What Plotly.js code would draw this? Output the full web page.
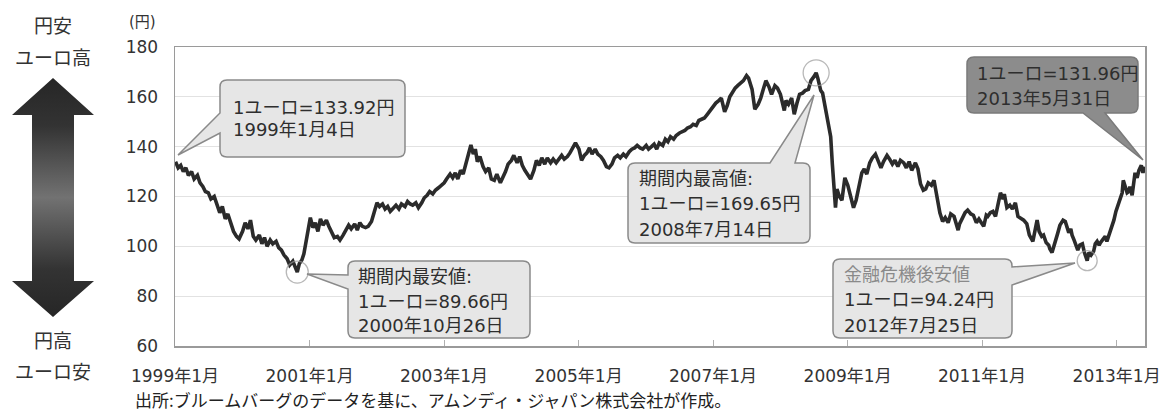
<!DOCTYPE html>
<html>
<head>
<meta charset="utf-8">
<script src="https://cdn.plot.ly/plotly-3.0.1.min.js"></script>
<style>html,body{margin:0;padding:0;background:#fff;}#chart{width:1168px;height:415px;}</style>
</head>
<body>
<div id="chart"></div>
<script>
// ---- data ----
const dates = [
'1999-01-04','1999-01-18','1999-02-01','1999-02-15','1999-03-01','1999-03-15','1999-04-01','1999-04-15','1999-05-03','1999-05-17','1999-06-01','1999-06-15','1999-07-01','1999-07-15','1999-08-02','1999-08-16','1999-09-01','1999-09-15','1999-10-01','1999-10-15','1999-11-01','1999-11-15','1999-12-01','1999-12-15',
'2000-01-03','2000-01-17','2000-02-01','2000-02-15','2000-03-01','2000-03-15','2000-04-03','2000-04-17','2000-05-01','2000-05-15','2000-06-01','2000-06-15','2000-07-03','2000-07-17','2000-08-01','2000-08-15','2000-09-01','2000-09-15','2000-10-02','2000-10-16','2000-10-26','2000-11-06','2000-11-20','2000-12-01','2000-12-15',
'2001-01-05','2001-01-19','2001-02-01','2001-02-15','2001-03-01','2001-03-15','2001-04-02','2001-04-16','2001-05-01','2001-05-15','2001-06-01','2001-06-15','2001-07-02','2001-07-16','2001-08-01','2001-08-15','2001-09-03','2001-09-17','2001-10-01','2001-10-15','2001-11-01','2001-11-15','2001-12-03','2001-12-17',
'2002-01-02','2002-01-16','2002-02-01','2002-02-15','2002-03-01','2002-03-15','2002-04-01','2002-04-15','2002-05-01','2002-05-15','2002-06-03','2002-06-17','2002-07-01','2002-07-15','2002-08-01','2002-08-15','2002-09-02','2002-09-16','2002-10-01','2002-10-15','2002-11-01','2002-11-15','2002-12-02','2002-12-16',
'2003-01-02','2003-01-15','2003-02-03','2003-02-17','2003-03-03','2003-03-17','2003-04-01','2003-04-15','2003-05-01','2003-05-15','2003-05-27','2003-06-09','2003-06-20','2003-07-01','2003-07-15','2003-08-01','2003-08-15','2003-09-01','2003-09-15','2003-10-01','2003-10-15','2003-11-03','2003-11-17','2003-12-01','2003-12-15',
'2004-01-02','2004-01-15','2004-02-02','2004-02-16','2004-03-01','2004-03-15','2004-04-01','2004-04-15','2004-05-03','2004-05-17','2004-06-01','2004-06-15','2004-07-01','2004-07-15','2004-08-02','2004-08-16','2004-09-01','2004-09-15','2004-10-01','2004-10-15','2004-11-01','2004-11-15','2004-12-01','2004-12-15',
'2005-01-03','2005-01-17','2005-02-01','2005-02-15','2005-03-01','2005-03-15','2005-04-01','2005-04-15','2005-05-02','2005-05-16','2005-06-01','2005-06-15','2005-07-01','2005-07-15','2005-08-01','2005-08-15','2005-09-01','2005-09-15','2005-10-03','2005-10-17','2005-11-01','2005-11-15','2005-12-01','2005-12-15',
'2006-01-03','2006-01-16','2006-02-01','2006-02-15','2006-03-01','2006-03-15','2006-04-03','2006-04-17','2006-05-01','2006-05-15','2006-06-01','2006-06-15','2006-07-03','2006-07-17','2006-08-01','2006-08-15','2006-09-01','2006-09-15','2006-10-02','2006-10-16','2006-11-01','2006-11-15','2006-12-01','2006-12-15',
'2007-01-02','2007-01-16','2007-02-01','2007-02-15','2007-03-05','2007-03-19','2007-04-02','2007-04-16','2007-05-01','2007-05-15','2007-06-01','2007-06-15','2007-07-02','2007-07-13','2007-08-01','2007-08-16','2007-09-03','2007-09-17','2007-10-01','2007-10-15','2007-11-01','2007-11-15','2007-12-03','2007-12-17',
'2008-01-02','2008-01-15','2008-01-23','2008-02-01','2008-02-15','2008-03-03','2008-03-17','2008-04-01','2008-04-15','2008-05-01','2008-05-15','2008-06-02','2008-06-16','2008-07-01','2008-07-14','2008-07-23','2008-08-08','2008-08-18','2008-09-02','2008-09-16','2008-10-01','2008-10-10','2008-10-20','2008-10-27','2008-11-04','2008-11-17','2008-12-01','2008-12-17',
'2009-01-02','2009-01-15','2009-02-02','2009-02-16','2009-03-02','2009-03-19','2009-04-01','2009-04-15','2009-05-01','2009-05-15','2009-06-01','2009-06-15','2009-07-01','2009-07-15','2009-08-03','2009-08-17','2009-09-01','2009-09-15','2009-10-01','2009-10-15','2009-11-02','2009-11-16','2009-12-01','2009-12-15',
'2010-01-04','2010-01-18','2010-02-01','2010-02-16','2010-03-01','2010-03-15','2010-04-01','2010-04-15','2010-05-03','2010-05-17','2010-06-01','2010-06-15','2010-07-01','2010-07-15','2010-08-02','2010-08-16','2010-08-24','2010-09-01','2010-09-15','2010-10-01','2010-10-15','2010-11-01','2010-11-15','2010-12-01','2010-12-15',
'2011-01-03','2011-01-10','2011-01-24','2011-02-01','2011-02-15','2011-03-01','2011-03-15','2011-03-28','2011-04-04','2011-04-11','2011-04-25','2011-05-02','2011-05-16','2011-06-01','2011-06-15','2011-07-01','2011-07-15','2011-08-01','2011-08-15','2011-09-01','2011-09-15','2011-10-04','2011-10-14','2011-10-27','2011-11-07','2011-11-21','2011-12-01','2011-12-15','2011-12-29',
'2012-01-04','2012-01-16','2012-01-31','2012-02-06','2012-02-15','2012-02-28','2012-03-08','2012-03-16','2012-03-28','2012-04-05','2012-04-16','2012-04-27','2012-05-04','2012-05-15','2012-05-31','2012-06-04','2012-06-15','2012-06-29','2012-07-10','2012-07-17','2012-07-25','2012-08-03','2012-08-15','2012-08-29','2012-09-07','2012-09-17','2012-09-28','2012-10-05','2012-10-16','2012-10-31','2012-11-09','2012-11-20','2012-11-30','2012-12-05','2012-12-17','2012-12-28',
'2013-01-07','2013-01-16','2013-01-31','2013-02-06','2013-02-15','2013-02-27','2013-03-08','2013-03-14','2013-03-26','2013-04-04','2013-04-11','2013-04-22','2013-05-02','2013-05-15','2013-05-24','2013-05-31'
];
const yenPerEuro = [
133.92,131.5,132.5,130.0,131.5,128.5,130.0,127.0,128.5,125.5,124.0,122.0,121.5,119.0,120.0,116.5,113.5,116.0,111.0,113.0,108.5,106.0,104.0,103.0,
106.0,109.5,107.0,110.5,104.0,102.5,104.5,101.0,103.5,100.0,102.5,101.0,102.0,99.5,98.5,96.5,95.0,92.5,94.0,91.5,89.66,93.0,94.5,97.0,102.5,
111.5,107.5,109.5,106.0,111.0,108.5,110.5,108.0,106.0,103.5,104.0,102.5,104.5,106.5,108.5,107.0,109.0,106.5,109.5,108.0,107.5,108.0,110.0,113.5,
117.5,116.0,117.0,115.0,116.0,114.0,115.5,116.5,115.0,117.0,116.0,118.0,117.0,116.5,117.5,115.5,117.5,119.5,120.5,122.0,121.0,122.5,123.5,124.5,
125.5,127.0,129.0,127.5,129.5,127.0,130.5,129.0,133.5,138.0,140.7,137.0,139.0,134.0,136.0,132.0,130.0,131.5,127.0,126.5,129.0,125.5,127.5,130.0,133.0,
134.5,136.5,133.5,136.0,132.5,130.5,128.5,127.0,130.5,134.5,132.5,135.5,133.0,135.5,133.5,135.0,133.5,135.0,136.5,135.0,136.0,137.5,139.5,141.5,
139.0,134.5,136.5,137.5,139.5,137.0,139.0,137.0,136.0,134.5,132.0,131.5,133.0,135.5,136.5,135.5,137.0,136.0,138.0,139.0,139.5,140.5,139.5,139.0,
140.5,139.0,140.0,141.0,139.0,141.5,140.5,143.0,142.0,144.0,143.0,144.5,145.5,146.0,146.5,147.5,148.0,149.0,148.5,150.5,151.0,151.5,153.0,154.5,
156.0,157.5,158.5,159.5,154.0,156.5,160.0,162.0,163.5,164.5,165.5,166.5,168.5,167.5,163.0,155.0,157.0,159.5,163.0,166.5,164.0,161.0,164.5,163.5,
161.0,157.0,154.5,158.5,157.0,159.5,153.0,157.5,161.0,161.5,162.5,163.0,166.5,168.0,169.65,167.5,162.5,161.5,156.0,151.0,144.0,133.0,121.0,115.5,123.0,120.0,118.5,127.5,
124.5,120.0,115.5,118.5,123.0,129.5,131.0,129.0,133.5,135.5,137.0,134.5,131.5,134.0,136.5,135.0,133.0,134.5,132.0,134.5,133.5,131.5,134.0,130.5,
133.5,131.0,125.0,122.5,123.0,125.5,124.5,126.5,118.5,113.5,110.0,111.5,109.5,113.0,112.0,108.5,106.5,109.0,111.0,113.5,114.5,113.0,112.5,109.5,111.0,
109.0,108.0,112.5,112.0,113.5,114.0,112.0,116.0,118.5,121.5,119.0,121.0,115.5,116.5,115.0,117.5,112.0,111.0,110.5,109.0,104.5,102.0,106.5,110.5,106.0,104.0,104.5,101.5,100.5,
99.0,97.5,101.0,102.0,105.0,108.5,109.5,110.5,110.0,108.0,105.5,107.0,104.5,102.5,99.5,98.5,100.5,101.0,97.5,96.0,94.24,97.5,96.5,98.0,101.0,102.0,100.5,101.5,102.5,104.0,102.0,104.5,107.0,107.0,110.5,114.0,
116.0,118.5,121.5,126.5,124.0,121.5,122.0,124.0,120.5,125.0,129.5,127.5,130.5,132.5,129.5,131.96
];
const tickDates = ['1999-01-01','2001-01-01','2003-01-01','2005-01-01','2007-01-01','2009-01-01','2011-01-01','2013-01-01'];
const tickLabels = ['1999年1月','2001年1月','2003年1月','2005年1月','2007年1月','2009年1月','2011年1月','2013年1月'];
const markDates = ['2000-10-26','2008-07-14','2012-07-25'];
const markValues = [89.66, 169.65, 94.24];

// ---- layout helpers (pixel -> paper) ----
const L0 = 175, R0 = 1145, T0 = 47, B0 = 346;
const W = R0 - L0, H = B0 - T0;
const P = px => +((px - L0) / W).toFixed(5);
const Qy = py => +((B0 - py) / H).toFixed(5);
const LN = (x, y) => ` L${P(x)},${Qy(y)}`;
const QC = (cx, cy, x, y) => ` Q${P(cx)},${Qy(cy)} ${P(x)},${Qy(y)}`;
function bubble(x0, y0, x1, y1, side, b0, b1, tx, ty) {
  const r = 7;
  let d = `M${P(x0 + r)},${Qy(y0)}`;
  if (side === 'top') d += LN(b0, y0) + LN(tx, ty) + LN(b1, y0);
  d += LN(x1 - r, y0) + QC(x1, y0, x1, y0 + r);
  if (side === 'right') d += LN(x1, b0) + LN(tx, ty) + LN(x1, b1);
  d += LN(x1, y1 - r) + QC(x1, y1, x1 - r, y1);
  if (side === 'bottom') d += LN(b1, y1) + LN(tx, ty) + LN(b0, y1);
  d += LN(x0 + r, y1) + QC(x0, y1, x0, y1 - r);
  if (side === 'left') d += LN(x0, b1) + LN(tx, ty) + LN(x0, b0);
  d += LN(x0, y0 + r) + QC(x0, y0, x0 + r, y0) + ' Z';
  return d;
}
const FONT = 'DejaVu Sans, Noto Sans CJK JP, sans-serif';
const CJK = 'Noto Sans CJK JP, DejaVu Sans, sans-serif';
const light = {fill: '#e6e6e6', line: '#8a8a8a'};
const dark = {fill: '#8c8c8c', line: '#7a7a7a'};
const boxes = [
  {b: [220, 80, 405, 157, 'left', 113, 133, 178, 155], c: light, x: 231, lines: [['1ユーロ=133.92円', 107], ['1999年1月4日', 130]]},
  {b: [628, 163, 810, 243, 'top', 770, 795, 814, 95], c: light, x: 637, lines: [['期間内最高値:', 178], ['1ユーロ=169.65円', 204], ['2008年7月14日', 229]]},
  {b: [348, 261, 530, 338, 'left', 275, 289, 307, 274], c: light, x: 356, lines: [['期間内最安値:', 277], ['1ユーロ=89.66円', 302], ['2000年10月26日', 326]]},
  {b: [833, 259, 1012, 338, 'right', 267, 285, 1075, 263], c: light, x: 842, lines: [['金融危機後安値', 275, '#8a8a8a'], ['1ユーロ=94.24円', 300], ['2012年7月25日', 325]]},
  {b: [967, 57, 1138, 113, 'bottom', 1083, 1105, 1143, 160], c: dark, x: 975, lines: [['1ユーロ=131.96円', 73], ['2013年5月31日', 98]]}
];
const shapes = [], annotations = [];
boxes.forEach(bx => {
  shapes.push({type: 'path', xref: 'paper', yref: 'paper', layer: 'above',
    path: bubble(...bx.b), fillcolor: bx.c.fill, line: {color: bx.c.line, width: 1.5}});
  bx.lines.forEach(l => annotations.push({xref: 'paper', yref: 'paper', x: P(bx.x), y: Qy(l[1]),
    xanchor: 'left', yanchor: 'middle', showarrow: false, text: l[0],
    font: {family: FONT, size: 18, color: l[2] || '#2e2e2e'}}));
});
const side = (t, x, y, s) => ({xref: 'paper', yref: 'paper', x: P(x), y: Qy(y), xanchor: 'center', yanchor: 'middle',
  showarrow: false, text: t, font: {family: CJK, size: s, color: '#333'}});
annotations.push(side('円安', 53, 25, 19), side('ユーロ高', 53, 57, 19), side('円高', 53, 339, 19), side('ユーロ安', 53, 370, 19));
annotations.push({xref: 'paper', yref: 'paper', x: P(143), y: Qy(22), xanchor: 'center', yanchor: 'middle', showarrow: false,
  text: '(円)', font: {family: FONT, size: 15, color: '#333'}});
annotations.push({xref: 'paper', yref: 'paper', x: P(133), y: Qy(400), xanchor: 'left', yanchor: 'middle', showarrow: false,
  text: '出所:ブルームバーグのデータを基に、アムンディ・ジャパン株式会社が作成。', font: {family: CJK, size: 17, color: '#222'}});

const arrowSvg = "<svg xmlns='http://www.w3.org/2000/svg' width='82' height='239' viewBox='0 0 82 239'>" +
  "<defs><linearGradient id='g' x1='0' y1='0' x2='0' y2='1'>" +
  "<stop offset='0' stop-color='#262626'/><stop offset='0.2' stop-color='#333'/><stop offset='0.5' stop-color='#727272'/><stop offset='0.8' stop-color='#333'/><stop offset='1' stop-color='#262626'/>" +
  "</linearGradient></defs>" +
  "<path d='M41 0 L82 37 L62 37 L62 203 L82 203 L41 239 L0 203 L20 203 L20 37 L0 37 Z' fill='url(#g)'/></svg>";
const images = [{source: 'data:image/svg+xml;charset=utf-8,' + encodeURIComponent(arrowSvg),
  xref: 'paper', yref: 'paper', x: P(12), y: Qy(78), sizex: 82 / W, sizey: 239 / H,
  xanchor: 'left', yanchor: 'top', sizing: 'stretch', layer: 'above'}];

const traces = [
  {type: 'scatter', mode: 'lines', x: dates, y: yenPerEuro, line: {color: '#2b2b2b', width: 3.6}, hoverinfo: 'skip'},
  {type: 'scatter', mode: 'markers', x: markDates, y: markValues, hoverinfo: 'skip',
    marker: {symbol: 'circle-open', size: [22, 26, 20], color: '#9a9a9a', line: {width: 1.3}}}
];
const layout = {
  width: 1168, height: 415, showlegend: false,
  margin: {l: L0, r: 1168 - R0, t: T0, b: 415 - B0},
  paper_bgcolor: '#fff', plot_bgcolor: '#fff',
  xaxis: {type: 'date', range: ['1999-01-01', '2013-06-04'], tickvals: tickDates, ticktext: tickLabels,
    ticks: 'inside', ticklen: 6, tickcolor: '#b0b0b0', showgrid: false, zeroline: false,
    showline: true, linecolor: '#9a9a9a', linewidth: 1.5, mirror: true, ticklabelstandoff: 14,
    tickfont: {family: FONT, size: 17, color: '#333'}},
  yaxis: {range: [60, 180], dtick: 20, tick0: 60, showgrid: true, gridcolor: '#e2e2e2', gridwidth: 1.2,
    zeroline: false, showline: true, linecolor: '#9a9a9a', linewidth: 1.5, mirror: true, ticks: '',
    ticklabelstandoff: 12, tickfont: {family: FONT, size: 17, color: '#333'}},
  shapes: shapes, annotations: annotations, images: images
};
Plotly.newPlot('chart', traces, layout, {staticPlot: true, displayModeBar: false});
</script>
</body>
</html>
